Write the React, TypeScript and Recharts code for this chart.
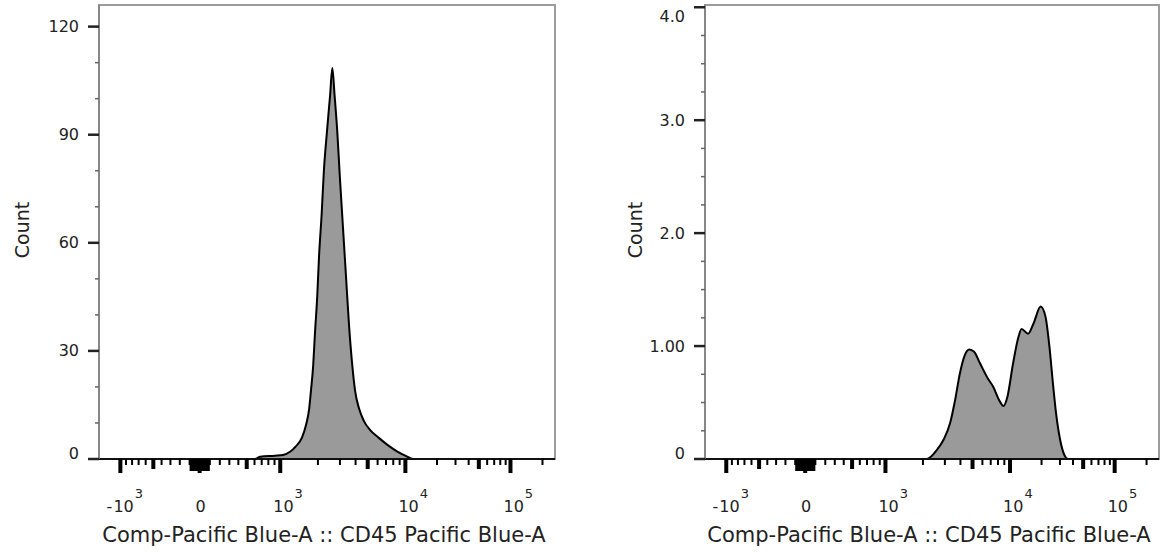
import React from "react";
import { AreaChart, Area, XAxis, YAxis, ReferenceArea } from "recharts";

const FONT = "'DejaVu Sans', Verdana, sans-serif";
const TEXT = "#222";

// histograms: x in display channels (0-1024 across the plot), y = events
const allChannel = [0, 350, 362, 395, 413, 429, 442, 456, 465, 472, 476, 481, 485, 490, 494, 500, 505, 512, 519, 524, 529, 535, 541, 548, 555, 561, 568, 575, 584, 595, 609, 627, 647, 671, 690, 705, 1024];
const allCount = [0, 0, 0.6, 0.9, 1.1, 2, 3.5, 6, 9.5, 14, 19, 26, 35, 45, 56, 68, 80, 91, 101, 108.5, 101, 91, 78, 64, 50, 38, 27, 19, 14, 10.5, 8, 6, 4, 2.0, 0.8, 0, 0];

const gatedChannel = [0, 500, 523, 538, 553, 564, 575, 586, 596, 607, 620, 637, 650, 665, 673, 682, 695, 707, 714, 729, 741, 757, 768, 777, 784, 792, 801, 810, 819, 1024];
const gatedCount = [0, 0, 0.08, 0.17, 0.32, 0.52, 0.76, 0.92, 0.97, 0.95, 0.85, 0.72, 0.64, 0.51, 0.47, 0.55, 0.85, 1.08, 1.15, 1.11, 1.2, 1.35, 1.26, 0.99, 0.7, 0.4, 0.17, 0.04, 0, 0];

// biex axis anchors: value -> display channel
const anchorValues = [-1000, 0, 1000, 10000, 100000, 262144];
const anchorChannels = [48, 226, 407, 688, 924, 1024];

const xMajorValues = [-1000, 0, 1000, 10000, 100000];
const xMajorLabels = ["-10^3", "0", "10^3", "10^4", "10^5"];
const xMidValues = [-500, 500, 5000, 50000];

const leftYTicks = [0, 10, 20, 30, 40, 50, 60, 70, 80, 90, 100, 110, 120];
const leftYMajor = [0, 30, 60, 90, 120];
const leftYLabels = ["0", "30", "60", "90", "120"];

const rightYTicks = [0, 0.25, 0.5, 0.75, 1, 1.25, 1.5, 1.75, 2, 2.25, 2.5, 2.75, 3, 3.25, 3.5, 3.75, 4];
const rightYMajor = [0, 1, 2, 3, 4];
const rightYLabels = ["0", "1.00", "2.0", "3.0", "4.0"];

const xTitle = "Comp-Pacific Blue-A :: CD45 Pacific Blue-A";

function toChannel(v: number): number {
  const [vNeg, v0, vPos] = anchorValues;
  const [cNeg, c0, cPos] = anchorChannels;
  if (Math.abs(v) <= vPos) {
    const a = Math.asinh(v / 640) / Math.asinh(vPos / 640);
    return v >= 0 ? c0 + a * (cPos - c0) : c0 + a * (c0 - cNeg);
  }
  for (let i = 2; i < anchorValues.length - 1; i++) {
    const lo = anchorValues[i];
    const hi = anchorValues[i + 1];
    if (v >= lo && v <= hi) {
      const f = (Math.log10(v) - Math.log10(lo)) / (Math.log10(hi) - Math.log10(lo));
      return anchorChannels[i] + f * (anchorChannels[i + 1] - anchorChannels[i]);
    }
  }
  return v < 0 ? cNeg : anchorChannels[anchorChannels.length - 1];
}

type XTickInfo = { ch: number; kind: string; label?: string };

const xTickInfo: XTickInfo[] = [];
xMajorValues.forEach((v, i) => xTickInfo.push({ ch: toChannel(v), kind: "major", label: xMajorLabels[i] }));
xMidValues.forEach((v) => xTickInfo.push({ ch: toChannel(v), kind: "mid" }));
for (let m = 1; m <= 9; m++) {
  if (m !== 5) {
    xTickInfo.push({ ch: toChannel(m * 100), kind: "minor" });
    xTickInfo.push({ ch: toChannel(-m * 100), kind: "minor" });
    if (m > 1) {
      xTickInfo.push({ ch: toChannel(m * 1000), kind: "minor" });
      xTickInfo.push({ ch: toChannel(m * 10000), kind: "minor" });
    }
  }
  xTickInfo.push({ ch: toChannel(m * 10), kind: "zero" });
  xTickInfo.push({ ch: toChannel(-m * 10), kind: "zero" });
}
xTickInfo.push({ ch: toChannel(200000), kind: "minor" });
const xTickChannels = xTickInfo.map((t) => t.ch).sort((a, b) => a - b);

function XTick(props: any) {
  const { x, y, payload } = props;
  const t = xTickInfo.find((d) => Math.abs(d.ch - payload.value) < 1e-6);
  if (!t) return null;
  const len = t.kind === "major" ? 14 : t.kind === "mid" ? 10 : t.kind === "zero" ? 12 : 6;
  const w = t.kind === "major" || t.kind === "mid" ? 4 : 2;
  let label = null;
  if (t.label === "0") {
    label = (
      <text x={x + 1} y={y + 53} textAnchor="middle" fontSize={16} fill={TEXT} fontFamily={FONT}>
        0
      </text>
    );
  } else if (t.label) {
    const neg = t.label.startsWith("-");
    const [base, exp] = t.label.replace("-", "").split("^");
    label = (
      <g>
        {neg && (
          <text x={x - 8} y={y + 53} textAnchor="end" fontSize={16} fill={TEXT} fontFamily={FONT}>
            -
          </text>
        )}
        <text x={x - 7} y={y + 53} textAnchor="start" fontSize={16} fill={TEXT} fontFamily={FONT}>
          <tspan>{base}</tspan>
          <tspan dy={-14} dx={1} fontSize={13}>
            {exp}
          </tspan>
        </text>
      </g>
    );
  }
  return (
    <g>
      <line x1={x} x2={x} y1={y} y2={y + len} stroke="#000" strokeWidth={w} />
      {label}
    </g>
  );
}

function makeYTick(majors: number[], labels: string[], top: number) {
  return function YTick(props: any) {
    const { x, y, payload } = props;
    const i = majors.indexOf(payload.value);
    const major = i >= 0;
    let shift = 0;
    if (payload.value === 0) shift = -6;
    if (payload.value === top) shift = 9;
    return (
      <g>
        <line
          x1={x - (major ? 11 : 4)}
          x2={x}
          y1={y}
          y2={y}
          stroke={major ? "#222" : "#666"}
          strokeWidth={major ? 2.5 : 1.5}
        />
        {major && (
          <text x={x - 20} y={y + 5.5 + shift} textAnchor="end" fontSize={16} fill={TEXT} fontFamily={FONT}>
            {labels[i]}
          </text>
        )}
      </g>
    );
  };
}

interface HistogramProps {
  channels: number[];
  counts: number[];
  yMax: number;
  yTicks: number[];
  yMajor: number[];
  yLabels: string[];
  topLabelValue: number;
  left: number;
  width: number;
  rightMargin: number;
  axisWidth: number;
  countOffset: number;
}

function Histogram({
  channels,
  counts,
  yMax,
  yTicks,
  yMajor,
  yLabels,
  topLabelValue,
  left,
  width,
  rightMargin,
  axisWidth,
  countOffset,
}: HistogramProps) {
  const data = channels.map((ch, i) => ({ ch, count: counts[i] }));
  return (
    <div style={{ position: "absolute", left, top: 0 }}>
      <AreaChart width={width} height={554} data={data} margin={{ top: 5, right: rightMargin, bottom: 0, left: 0 }}>
        <ReferenceArea x1={0} x2={1024} y1={0} y2={yMax} fill="none" stroke="#9c9c9c" strokeWidth={2} />
        <Area
          type="monotone"
          dataKey="count"
          stroke="#000"
          strokeWidth={2}
          fill="#9a9a9a"
          fillOpacity={1}
          dot={false}
          activeDot={false}
          isAnimationActive={false}
        />
        <XAxis
          type="number"
          dataKey="ch"
          domain={[0, 1024]}
          allowDataOverflow
          ticks={xTickChannels}
          interval={0}
          tickSize={0}
          tickMargin={0}
          tickLine={false}
          axisLine={{ stroke: "#111", strokeWidth: 2 }}
          height={95}
          tick={XTick}
          label={(p: any) => (
            <text
              x={p.viewBox.x + p.viewBox.width / 2 - 3}
              y={p.viewBox.y + 83}
              textAnchor="middle"
              fontSize={21}
              fill={TEXT}
              fontFamily={FONT}
            >
              {xTitle}
            </text>
          )}
        />
        <YAxis
          type="number"
          domain={[0, yMax]}
          allowDataOverflow
          ticks={yTicks}
          interval={0}
          tickSize={0}
          tickMargin={0}
          tickLine={false}
          axisLine={{ stroke: "#808080", strokeWidth: 1.5 }}
          width={axisWidth}
          tick={makeYTick(yMajor, yLabels, topLabelValue)}
          label={(p: any) => {
            const cx = p.viewBox.x + p.viewBox.width - countOffset;
            const cy = 230;
            return (
              <text
                x={cx}
                y={cy}
                transform={`rotate(-90, ${cx}, ${cy})`}
                textAnchor="middle"
                fontSize={19}
                fill={TEXT}
                fontFamily={FONT}
              >
                Count
              </text>
            );
          }}
        />
      </AreaChart>
    </div>
  );
}

export default function App() {
  return (
    <div style={{ position: "absolute", left: 0, top: 0, width: 1163, height: 554, background: "#fff" }}>
      <Histogram
        channels={allChannel}
        counts={allCount}
        yMax={126}
        yTicks={leftYTicks}
        yMajor={leftYMajor}
        yLabels={leftYLabels}
        topLabelValue={-1}
        left={0}
        width={600}
        rightMargin={45}
        axisWidth={99}
        countOffset={70}
      />
      <Histogram
        channels={gatedChannel}
        counts={gatedCount}
        yMax={4.02}
        yTicks={rightYTicks}
        yMajor={rightYMajor}
        yLabels={rightYLabels}
        topLabelValue={4}
        left={600}
        width={563}
        rightMargin={4}
        axisWidth={105}
        countOffset={63}
      />
    </div>
  );
}
